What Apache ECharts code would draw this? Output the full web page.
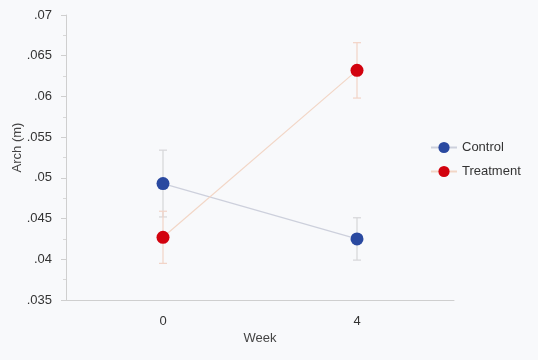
<!DOCTYPE html>
<html><head><meta charset="utf-8">
<script src="https://cdn.jsdelivr.net/npm/echarts@6/dist/echarts.min.js"></script>
<style>html,body{margin:0;padding:0;background:#f8f9fb;}#c{width:538px;height:360px;}</style>
</head><body><div id="c"></div>
<script>
const weeks = ['0', '4'];
const controlMean = [0.0493, 0.0425];
const controlErr = [0.0041, 0.0026];
const treatmentMean = [0.0427, 0.0632];
const treatmentErr = [0.0032, 0.0034];
const yTicks = [0.035, 0.04, 0.045, 0.05, 0.055, 0.06, 0.065, 0.07];

function errSeries(name, mean, err, color) {
  return {
    type: 'custom', name: name + ' err', silent: true, z: 1,
    data: mean.map((m, i) => [i, m - err[i], m + err[i]]),
    renderItem: function (params, api) {
      const lo = api.coord([api.value(0), api.value(1)]);
      const hi = api.coord([api.value(0), api.value(2)]);
      const w = 4;
      const st = { stroke: color, lineWidth: 1.2 };
      return { type: 'group', children: [
        { type: 'line', shape: { x1: lo[0], y1: lo[1], x2: hi[0], y2: hi[1] }, style: st },
        { type: 'line', shape: { x1: lo[0]-w, y1: lo[1], x2: lo[0]+w, y2: lo[1] }, style: st },
        { type: 'line', shape: { x1: hi[0]-w, y1: hi[1], x2: hi[0]+w, y2: hi[1] }, style: st }
      ]};
    }
  };
}

const chart = echarts.init(document.getElementById('c'));
chart.setOption({
  backgroundColor: '#f8f9fb',
  animation: false,
  grid: { left: 66, right: 84, top: 15, bottom: 60, containLabel: false, outerBoundsMode: 'none' },
  legend: {
    orient: 'vertical', left: 425, top: 136, itemGap: 11, itemWidth: 26, itemHeight: 14,
    textStyle: { fontFamily: 'Liberation Sans, Arial', fontSize: 13, color: '#333' },
    data: ['Control', 'Treatment']
  },
  xAxis: {
    type: 'category', data: weeks, boundaryGap: true,
    name: 'Week', nameLocation: 'middle', nameGap: 32, nameMoveOverlap: false,
    nameTextStyle: { fontFamily: 'Liberation Sans, Arial', fontSize: 13, color: '#444' },
    axisLine: { lineStyle: { color: '#cfcfcf' } },
    axisTick: { alignWithLabel: true, length: 4, lineStyle: { color: '#bbb' } },
    axisLabel: { fontFamily: 'Liberation Sans, Arial', fontSize: 13, color: '#333', margin: 15 }
  },
  yAxis: {
    type: 'value', min: yTicks[0], max: yTicks[yTicks.length-1], interval: 0.005,
    name: 'Arch (m)', nameLocation: 'middle', nameGap: 42, nameMoveOverlap: false,
    nameTextStyle: { fontFamily: 'Liberation Sans, Arial', fontSize: 13, color: '#444', padding: [0, 0, 0, 20] },
    axisLine: { show: true, lineStyle: { color: '#cfcfcf' } },
    axisTick: { show: true, length: 5, lineStyle: { color: '#cfcfcf' } },
    minorTick: { show: true, splitNumber: 2, length: 3, lineStyle: { color: '#d8d8d8' } },
    splitLine: { show: false },
    axisLabel: {
      fontFamily: 'Liberation Sans, Arial', fontSize: 13, color: '#333', margin: 14,
      formatter: v => { let s = (+v).toFixed(3).replace(/0+$/, ''); return s.replace(/^0/, ''); }
    }
  },
  series: [
    errSeries('Control', controlMean, controlErr, '#d6d6d8'),
    errSeries('Treatment', treatmentMean, treatmentErr, '#f2d3c6'),
    {
      name: 'Control', type: 'line', data: controlMean, symbol: 'circle', symbolSize: 13, z: 3,
      itemStyle: { color: '#2a49a0' }, lineStyle: { color: '#cdd0dc', width: 1.2 }
    },
    {
      name: 'Treatment', type: 'line', data: treatmentMean, symbol: 'circle', symbolSize: 13, z: 3,
      itemStyle: { color: '#d2020e' }, lineStyle: { color: '#f2d6c6', width: 1.2 }
    }
  ]
});
</script></body></html>
